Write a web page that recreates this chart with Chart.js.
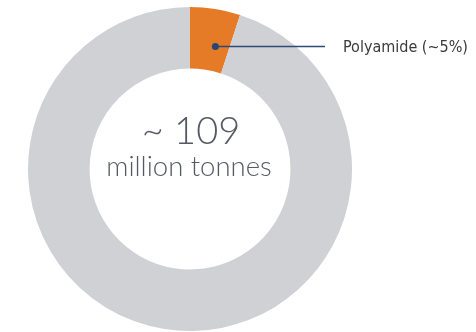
<!DOCTYPE html>
<html>
    <head>
        <meta charset="utf-8"/>
        <title>Polyamide share</title>
        <style>
            html, body { margin: 0; padding: 0; background: #fff; }
            .chart-box { width: 476px; height: 332px; position: relative; }
        </style>
    </head>
    <body>
        <div class="chart-box">
            <canvas id="donut" width="476" height="332"></canvas>
        </div>

        <script src="https://cdn.jsdelivr.net/npm/chart.js@4/dist/chart.umd.min.js"></script>
        <script>
            // data
            var labels = ['Polyamide', 'Other fibres'];
            var shares = [5, 95];
            var sliceColors = ['#e57a27', '#d0d1d4'];
            var calloutText = 'Polyamide (~5%)';
            var totalText = '~ 109';
            var unitText = 'million tonnes';

            // center text + callout for the first slice
            var extras = {
                id: 'extras',
                afterDraw: function(chart) {
                    var c = chart.ctx;
                    var arc = chart.getDatasetMeta(0).data[0];
                    var p = arc.getProps(['x', 'y', 'startAngle', 'endAngle', 'innerRadius', 'outerRadius'], true);

                    c.save();
                    c.textAlign = 'center';
                    c.textBaseline = 'alphabetic';
                    c.fillStyle = '#555964';
                    c.font = '300 38px Lato, "Open Sans", sans-serif';
                    c.fillText(totalText, p.x + 1, p.y - 25);
                    c.font = '300 27.5px Lato, "Open Sans", sans-serif';
                    c.fillText(unitText, p.x - 1, p.y + 7);

                    var ang = p.startAngle + (p.endAngle - p.startAngle) * 0.65;
                    var r = p.innerRadius + (p.outerRadius - p.innerRadius) * 0.4;
                    var dx = p.x + Math.cos(ang) * r;
                    var dy = p.y + Math.sin(ang) * r;

                    c.strokeStyle = '#2f4a78';
                    c.lineWidth = 1.5;
                    c.beginPath();
                    c.moveTo(dx, dy);
                    c.lineTo(325, dy);
                    c.stroke();

                    c.fillStyle = '#2a4575';
                    c.beginPath();
                    c.arc(dx, dy, 3.5, 0, Math.PI * 2);
                    c.fill();

                    c.fillStyle = '#3a3a3a';
                    c.textAlign = 'left';
                    c.textBaseline = 'middle';
                    c.font = '16px "Liberation Sans Narrow", "DejaVu Sans Condensed", sans-serif';
                    c.fillText(calloutText, 343, dy + 1);
                    c.restore();
                }
            };

            var ctx = document.getElementById('donut').getContext('2d');
            window.myDonut = new Chart(ctx, {
                type: 'doughnut',
                data: {
                    labels: labels,
                    datasets: [{
                        data: shares,
                        backgroundColor: sliceColors,
                        borderWidth: 0
                    }]
                },
                options: {
                    responsive: false,
                    animation: false,
                    cutout: '62%',
                    layout: { padding: { left: 28, right: 124, top: 7, bottom: 1 } },
                    plugins: {
                        legend: { display: false },
                        tooltip: { enabled: false }
                    }
                },
                plugins: [extras]
            });
        </script>
    </body>
</html>
